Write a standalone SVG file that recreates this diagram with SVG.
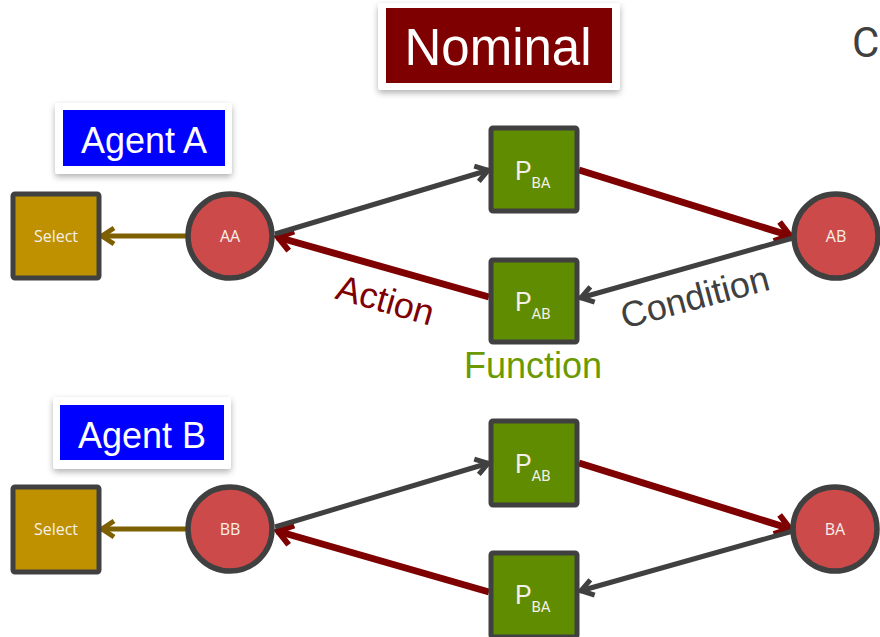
<svg xmlns="http://www.w3.org/2000/svg" width="880" height="637" viewBox="0 0 880 637">
  <style>
    .card { fill: #ffffff; filter: url(#shadow); }
    .title { font-family: "Liberation Sans", Arial, sans-serif; fill: #ffffff; text-anchor: middle; }
    .sel rect { fill: #bf9000; stroke: #404040; stroke-width: 5; }
    .agent circle { fill: #cd4a4a; stroke: #404040; stroke-width: 5.5; }
    .fn rect { fill: #5f8c00; stroke: #404040; stroke-width: 5; }
    .lbl { font-family: "Open Sans", "DejaVu Sans", sans-serif; fill: #f4f0e8; text-anchor: middle; font-size: 16px; }
    .p { font-family: "Roboto", "Open Sans", sans-serif; fill: #f4f0e8; font-size: 26px; }
    .p tspan { font-size: 15px; }
    .gray { stroke: #404040; stroke-width: 5; fill: none; marker-end: url(#ahGray); }
    .red { stroke: #7f0000; stroke-width: 7; fill: none; marker-end: url(#ahRed); }
    .olive { stroke: #7f6000; stroke-width: 5; fill: none; marker-end: url(#ahOlive); }
    .note { font-family: "Liberation Sans", Arial, sans-serif; font-size: 36px; }
  </style>
  <defs>
    <filter id="shadow" x="-20%" y="-20%" width="140%" height="160%">
      <feDropShadow dx="0" dy="3" stdDeviation="3" flood-color="#000000" flood-opacity="0.3"/>
    </filter>
    <marker id="ahGray" markerUnits="userSpaceOnUse" markerWidth="24" markerHeight="24" viewBox="0 0 24 24" refX="20" refY="12" orient="auto">
      <path d="M7,4 L19,12 L7,20" fill="none" stroke="#404040" stroke-width="5"/>
    </marker>
    <marker id="ahRed" markerUnits="userSpaceOnUse" markerWidth="28" markerHeight="28" viewBox="0 0 28 28" refX="23" refY="14" orient="auto">
      <path d="M8,4 L22,14 L8,24" fill="none" stroke="#7f0000" stroke-width="6"/>
    </marker>
    <marker id="ahOlive" markerUnits="userSpaceOnUse" markerWidth="24" markerHeight="24" viewBox="0 0 24 24" refX="20" refY="12" orient="auto">
      <path d="M7,4 L19,12 L7,20" fill="none" stroke="#7f6000" stroke-width="5"/>
    </marker>
  </defs>

  <!-- headings -->
  <g id="nominal">
    <rect class="card" x="378" y="3" width="242" height="87" rx="3"/>
    <rect x="386" y="8" width="226" height="75" fill="#7f0000"/>
    <text class="title" x="498" y="65" font-size="51">Nominal</text>
  </g>
  <g id="agentA">
    <rect class="card" x="55" y="103" width="177" height="71" rx="3"/>
    <rect x="63" y="110" width="162" height="56" fill="#0000ff"/>
    <text class="title" x="144" y="153" font-size="36">Agent A</text>
  </g>
  <g id="agentB">
    <rect class="card" x="53" y="397" width="178" height="72" rx="3"/>
    <rect x="60" y="405" width="164" height="55" fill="#0000ff"/>
    <text class="title" x="142" y="448" font-size="36">Agent B</text>
  </g>
  <text id="cLetter" x="852" y="57" font-family="Roboto, 'Liberation Sans', sans-serif" font-size="42" fill="#404040">C</text>

  <!-- connectors -->
  <g id="connectors">
    <line class="olive" x1="186" y1="236" x2="101" y2="236"/>
    <line class="red" x1="489" y1="297" x2="277" y2="237"/>
    <line class="gray" x1="275" y1="234" x2="489" y2="170"/>
    <line class="red" x1="579" y1="170" x2="791" y2="236"/>
    <line class="gray" x1="793" y1="238" x2="580" y2="298"/>

    <line class="olive" x1="186" y1="529" x2="101" y2="529"/>
    <line class="red" x1="489" y1="592" x2="277" y2="531"/>
    <line class="gray" x1="275" y1="527" x2="489" y2="463"/>
    <line class="red" x1="579" y1="463" x2="791" y2="529"/>
    <line class="gray" x1="793" y1="531" x2="580" y2="591"/>
  </g>

  <!-- connector labels -->
  <text class="note" fill="#7f0000" text-anchor="middle" transform="translate(382,312) rotate(16)">Action</text>
  <text class="note" fill="#404040" text-anchor="middle" transform="translate(698,309) rotate(-15)" font-size="37">Condition</text>
  <text class="note" fill="#6b9a00" text-anchor="middle" x="533" y="378">Function</text>

  <!-- Agent A row -->
  <g id="selectA" class="sel">
    <rect x="13" y="194" width="86" height="84" rx="2"/>
    <text class="lbl" x="56" y="242">Select</text>
  </g>
  <g id="AA" class="agent">
    <circle cx="230" cy="236" r="42"/>
    <text class="lbl" x="230" y="242">AA</text>
  </g>
  <g id="PBA1" class="fn">
    <rect x="491" y="128" width="86" height="83" rx="2"/>
    <text class="p" x="515" y="180">P<tspan dy="8">BA</tspan></text>
  </g>
  <g id="PAB1" class="fn">
    <rect x="491" y="260" width="86" height="82" rx="2"/>
    <text class="p" x="515" y="311">P<tspan dy="8">AB</tspan></text>
  </g>
  <g id="AB" class="agent">
    <circle cx="836" cy="236" r="42"/>
    <text class="lbl" x="836" y="242">AB</text>
  </g>

  <!-- Agent B row -->
  <g id="selectB" class="sel">
    <rect x="13" y="487" width="86" height="85" rx="2"/>
    <text class="lbl" x="56" y="535">Select</text>
  </g>
  <g id="BB" class="agent">
    <circle cx="230" cy="529" r="42"/>
    <text class="lbl" x="230" y="535">BB</text>
  </g>
  <g id="PAB2" class="fn">
    <rect x="491" y="421" width="86" height="84" rx="2"/>
    <text class="p" x="515" y="473">P<tspan dy="8">AB</tspan></text>
  </g>
  <g id="PBA2" class="fn">
    <rect x="491" y="553" width="86" height="84" rx="2"/>
    <text class="p" x="515" y="604">P<tspan dy="8">BA</tspan></text>
  </g>
  <g id="BA" class="agent">
    <circle cx="835" cy="529" r="42"/>
    <text class="lbl" x="835" y="535">BA</text>
  </g>
</svg>
